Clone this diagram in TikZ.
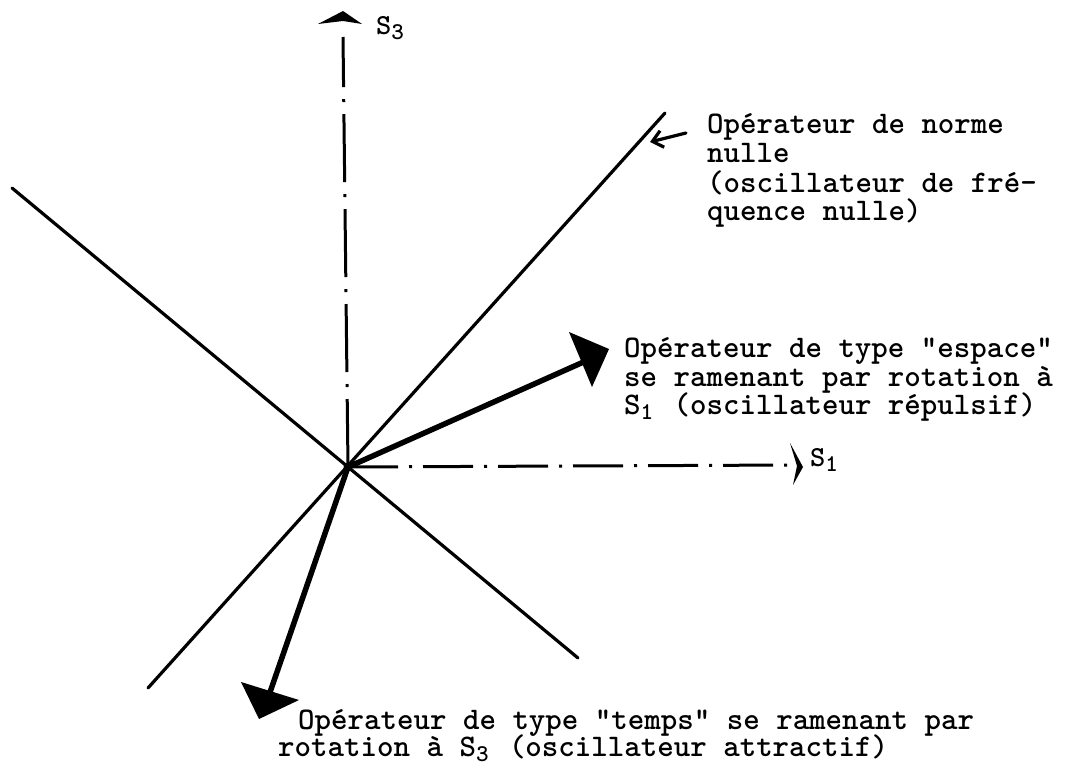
\documentclass[tikz,border=0pt]{standalone}
\usetikzlibrary{arrows.meta}
\newcommand\mysub[1]{\makebox[16.5pt][l]{\raisebox{-5pt}{\fontsize{24}{24}\selectfont #1}}}
\begin{document}
\begin{tikzpicture}[x=1pt,y=-1pt,
  thinline/.style={line width=3.2pt, line cap=round},
  axisline/.style={line width=3pt},
  vecline/.style={line width=5.5pt},
  headfill/.style={fill=black},
  lab/.style={font=\fontsize{31.4}{28}\selectfont\ttfamily\bfseries, anchor=base west, inner sep=0pt},
  axlab/.style={font=\fontsize{29}{28}\selectfont\ttfamily\bfseries, anchor=base west, inner sep=0pt}]
\useasboundingbox (0,0) rectangle (1068,765);
\coordinate (O) at (348,467);
% the two null lines
\coordinate (A1) at (12,188); \coordinate (A2) at (578,658);
\coordinate (B1) at (665,113); \coordinate (B2) at (148,688);
\draw[thinline] (A1) -- (A2);
\draw[thinline] (B2) -- (B1);
% vertical axis S3
\coordinate (Vt) at (343,37);
\draw[axisline, dash pattern=on 68pt off 12pt on 3pt off 12pt] (O) -- (Vt);
\fill[headfill] (318,24) -- (343,11) -- (362,24) -- (343,21) -- cycle;
% horizontal axis S1
\coordinate (Hr) at (794,465);
\draw[axisline, dash pattern=on 50pt off 11pt on 3pt off 11pt] (O) -- (Hr);
\fill[headfill] (790,443) -- (803,467) -- (793,485) -- (797,466) -- cycle;
% espace vector
\coordinate (E) at (588,360);
\draw[vecline] (O) -- (E);
\fill[headfill] (569,332) -- (609,349) -- (592,387) -- cycle;
% temps vector
\coordinate (T) at (268,698);
\draw[vecline] (O) -- (T);
\fill[headfill] (241,682) -- (299,700) -- (259,719) -- cycle;
% origin
\fill (O) circle (4.5pt);
% axis labels
\node[axlab] (s3) at (376,35) {S\mysub{3}};
\node[axlab] (s1) at (810,466) {S\mysub{1}};
% norme nulle
\node[lab] (n1) at (707,134) {Opérateur de norme};
\node[lab] (n2) at (707,163) {nulle};
\node[lab] (n3) at (707,192) {(oscillateur de fré-};
\node[lab] (n4) at (707,220) {quence nulle)};
\coordinate (Ns) at (686,133);
\coordinate (Nt) at (650,142);
\draw[thinline, -{Straight Barb[length=10pt,width=17pt]}] (Ns) -- (Nt);
% espace
\node[lab] (e1) at (624,357) {Opérateur de type "espace"};
\node[lab] (e2) at (624,386) {se ramenant par rotation à};
\node[lab] (e3) at (624,414) {S\mysub{1} (oscillateur répulsif)};
% temps
\node[lab] (t1) at (298,729) {Opérateur de type "temps" se ramenant par};
\node[lab] (t2) at (278,756) {rotation à S\mysub{3} (oscillateur attractif)};
\end{tikzpicture}
\end{document}
